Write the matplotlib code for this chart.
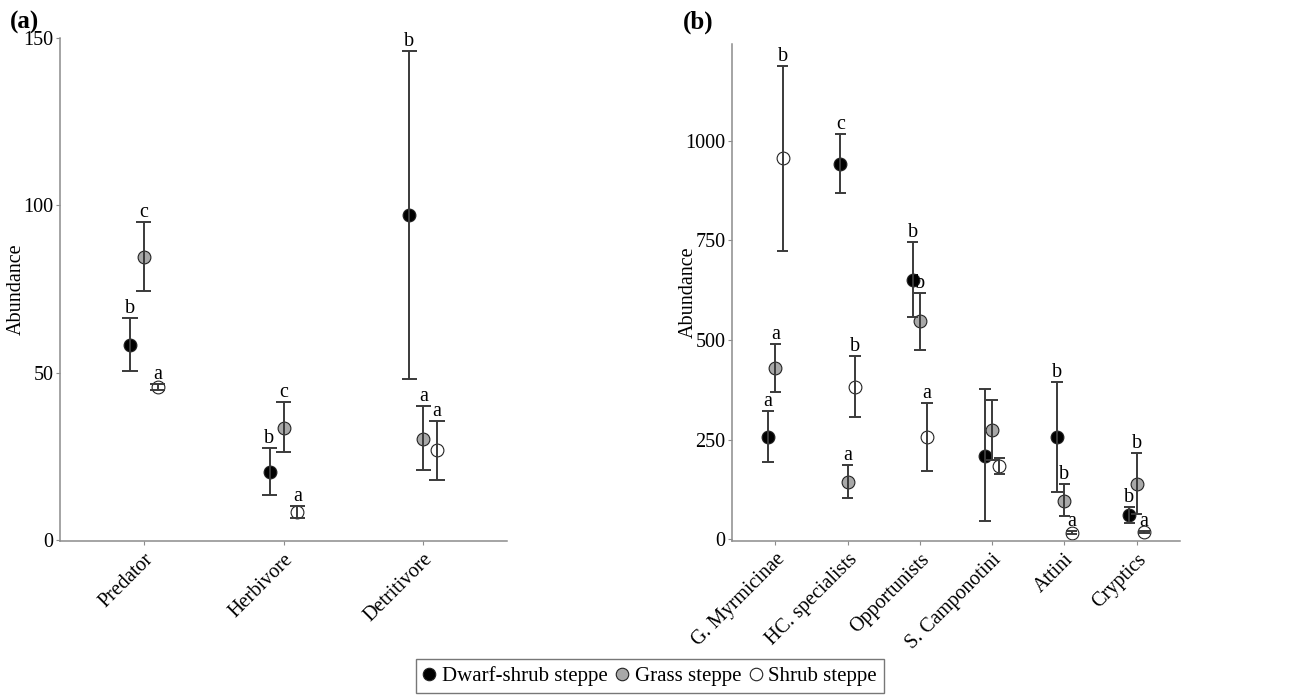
import matplotlib
matplotlib.use("Agg")
import matplotlib.pyplot as plt
from matplotlib.lines import Line2D

plt.rcParams['font.family'] = ['Liberation Serif', 'DejaVu Serif']

# habitats (order inside each group: dwarf, grass, shrub)
habitats = ["Dwarf-shrub steppe", "Grass steppe", "Shrub steppe"]
fills = ["black", "#a8a8a8", "white"]

# panel (a): trophic guilds
guilds_a = ["Predator", "Herbivore", "Detritivore"]
mean_a = [[58.4, 84.6, 45.8], [20.4, 33.6, 8.4], [97.2, 30.3, 26.8]]
upper_a = [[66.3, 95.0, 46.7], [27.4, 41.3, 10.2], [146.2, 39.9, 35.5]]
lower_a = [[50.4, 74.3, 44.9], [13.5, 26.2, 6.6], [48.2, 21.0, 18.0]]
letters_a = [["b", "c", "a"], ["b", "c", "a"], ["b", "a", "a"]]

# panel (b): functional groups
guilds_b = ["G. Myrmicinae", "HC. specialists", "Opportunists",
            "S. Camponotini", "Attini", "Cryptics"]
mean_b = [[256, 430, 957], [943, 144, 383], [651, 547, 256],
          [210, 274, 185], [256, 97, 17], [61, 139, 19]]
upper_b = [[321, 491, 1189], [1016, 186, 460], [745, 619, 343],
           [378, 350, 205], [394, 138, 20], [82, 216, 22]]
lower_b = [[193, 369, 724], [870, 105, 307], [557, 474, 172],
           [46, 200, 164], [119, 59, 14], [42, 63, 16]]
letters_b = [["a", "a", "b"], ["c", "a", "b"], ["b", "b", "a"],
             ["", "", ""], ["b", "b", "a"], ["b", "b", "a"]]

dodge = [-0.1, 0.0, 0.1]


def draw_panel(ax, cats, mean, upper, lower, letters, capw, labx):
    for i in range(len(cats)):
        for j in range(3):
            x = i + dodge[j]
            ax.plot(x, mean[i][j], "o", ms=9.2, mfc=fills[j], mec="#222222",
                    mew=0.8, zorder=2)
            # whiskers drawn over the points, as in the original
            ax.vlines(x, lower[i][j], upper[i][j], color="#3a3a3a", lw=1.4, zorder=3)
            ax.hlines([lower[i][j], upper[i][j]], x - capw, x + capw,
                      color="#3a3a3a", lw=1.4, zorder=3)
            if letters[i][j]:
                ax.text(x, upper[i][j], letters[i][j], ha="center", va="bottom",
                        fontsize=14.5)
    ax.set_xticks(range(len(cats)))
    ax.set_xticklabels(cats, rotation=45, ha="right", rotation_mode="anchor",
                       fontsize=15)
    ax.set_xlim(-0.6, len(cats) - 0.4)
    for s in ["top", "right"]:
        ax.spines[s].set_visible(False)
    for s in ["left", "bottom"]:
        ax.spines[s].set_color("#8c8c8c")
        ax.spines[s].set_linewidth(1.1)
    ax.tick_params(colors="#8c8c8c", labelcolor="black", length=3, labelsize=14.5)
    ax.tick_params(axis="y", pad=1.5)
    ax.set_ylabel("Abundance", fontsize=14.5)
    ax.yaxis.set_label_coords(labx, 0.5)


fig = plt.figure(figsize=(13, 6.95), dpi=100)
ax1 = fig.add_axes([60 / 1300, 1 - 541 / 695, 447 / 1300, 503 / 695])
ax2 = fig.add_axes([732 / 1300, 1 - 541 / 695, 448 / 1300, 497 / 695])

draw_panel(ax1, guilds_a, mean_a, upper_a, lower_a, letters_a, 0.055, -0.076)
ax1.set_ylim(-0.3, 150)
ax1.set_yticks([0, 50, 100, 150])

draw_panel(ax2, guilds_b, mean_b, upper_b, lower_b, letters_b, 0.08, -0.076)
ax2.set_ylim(-4, 1243)
ax2.set_yticks([0, 250, 500, 750, 1000])

fig.text(10 / 1300, 1 - 22 / 695, "(a)", fontsize=18, fontweight="bold", va="center")
fig.text(683 / 1300, 1 - 22 / 695, "(b)", fontsize=18, fontweight="bold", va="center")

handles = [Line2D([], [], ls="none", marker="o", ms=9, mfc=f, mec="#222222", mew=0.8)
           for f in fills]
leg = fig.legend(handles, habitats, loc="center", bbox_to_anchor=(0.5, 1 - 676 / 695),
                 ncol=3, fontsize=15, frameon=True, fancybox=False,
                 handlelength=0.6, handletextpad=0.3, columnspacing=0.4,
                 borderpad=0.35)
leg.get_frame().set_edgecolor("#555555")
leg.get_frame().set_linewidth(1.0)

fig.savefig("out.png", dpi=100)
